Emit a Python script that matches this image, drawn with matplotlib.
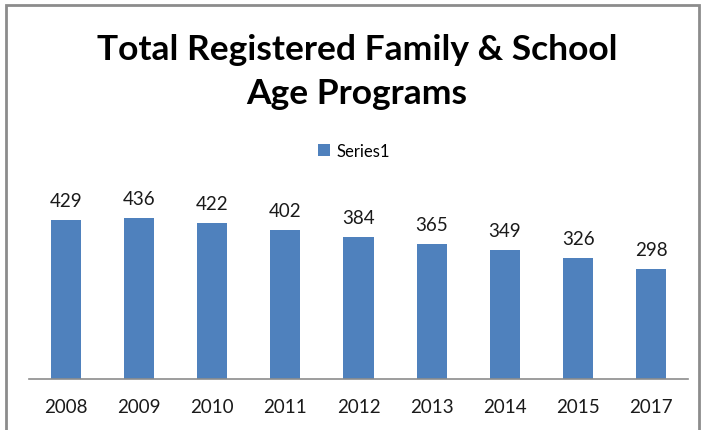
import matplotlib
matplotlib.use("Agg")
import matplotlib.pyplot as plt
from matplotlib.patches import Rectangle

years = ["2008", "2009", "2010", "2011", "2012", "2013", "2014", "2015", "2017"]
values = [429, 436, 422, 402, 384, 365, 349, 326, 298]
series_name = "Series1"
title = "Total Registered Family & School\nAge Programs"

plt.rcParams['font.family'] = ['Lato', 'DejaVu Sans']

W, H = 702, 431
fig = plt.figure(figsize=(W / 100, H / 100), dpi=100)

# frame
fig.patches.append(Rectangle((5.5 / W, -0.1), (699 - 5.5) / W, 1.1 - 5.5 / H,
                             transform=fig.transFigure, fill=False,
                             edgecolor="#8c8c8c", linewidth=2))

left, right = 29 / W, 688 / W
bottom, top = 1 - 380 / H, 1 - 195 / H
ax = fig.add_axes([left, bottom, right - left, top - bottom])
x = range(len(years))
bars = ax.bar(x, values, width=0.41, color="#4F81BD", label=series_name)
ax.set_xlim(-0.5, len(years) - 0.5)
ax.set_ylim(0, 500)
for s in ["top", "right", "left"]:
    ax.spines[s].set_visible(False)
ax.spines["bottom"].set_color("#8c8c8c")
ax.spines["bottom"].set_linewidth(1.2)
ax.set_yticks([])
ax.set_xticks(list(x))
ax.set_xticklabels(years, fontsize=13.5, color="#1a1a1a")
ax.tick_params(axis="x", length=0, pad=14)
for xi, v in zip(x, values):
    ax.annotate(str(v), (xi, v), xytext=(0, 14), textcoords="offset points",
                ha="center", va="center", fontsize=13.5, color="#1a1a1a",
                annotation_clip=False)

fig.text(357 / W, 1 - 72 / H, title, ha="center", va="center",
         fontsize=25.5, fontweight="bold", color="black", linespacing=1.5)

leg = fig.legend(handles=[bars], labels=[series_name], loc="center",
                 bbox_to_anchor=(354 / W, 1 - 152 / H), frameon=False,
                 fontsize=12, handlelength=0.7, handleheight=0.7,
                 handletextpad=0.4)

fig.savefig("out.png", dpi=100)
